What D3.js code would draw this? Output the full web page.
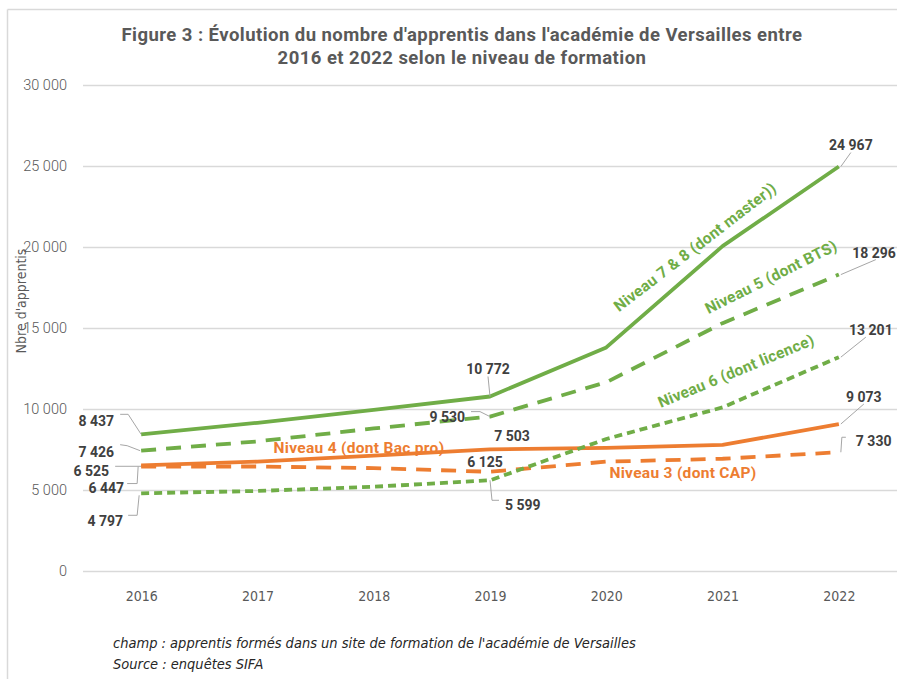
<!DOCTYPE html>
<html>
<head>
<meta charset="utf-8">
<script src="https://cdn.jsdelivr.net/npm/d3@7"></script>
<style>
  body { margin: 0; background: #fff; }
  .narrow { font-family: "Liberation Sans Narrow", "Arial Narrow", "DejaVu Sans Condensed", sans-serif; }
</style>
</head>
<body>
<div class="canvas"></div>
<script>
const w = 897;
const h = 679;
const margin = {top: 85, bottom: 108, left: 83, right: 0};

// data
const years = ["2016", "2017", "2018", "2019", "2020", "2021", "2022"];
const niveau78 = [8437, 9150, 9950, 10772, 13800, 20050, 24967];
const niveau5 = [7426, 8000, 8800, 9530, 11650, 15300, 18296];
const niveau6 = [4797, 4940, 5200, 5599, 8150, 10100, 13201];
const niveau4 = [6525, 6750, 7120, 7503, 7600, 7780, 9073];
const niveau3 = [6447, 6450, 6350, 6125, 6750, 6930, 7330];
const yTicks = [0, 5000, 10000, 15000, 20000, 25000, 30000];
const labeledYears = ["2016", "2019", "2022"];

const green = "#70AD47";
const orange = "#ED7D31";
const fmt = v => d3.format(",")(v).replace(/,/g, " ");

const svg = d3.select(".canvas")
              .append("svg")
              .attr("width", w)
              .attr("height", h);

// chart frame
svg.append("line").attr("x1", 7.5).attr("x2", w).attr("y1", 9.5).attr("y2", 9.5)
   .attr("stroke", "#d9d9d9").attr("stroke-width", 1.5);
svg.append("line").attr("x1", 7.5).attr("x2", 7.5).attr("y1", 9.5).attr("y2", h)
   .attr("stroke", "#d9d9d9").attr("stroke-width", 1.5);

const x = d3.scalePoint()
            .domain(years)
            .range([margin.left, w - margin.right])
            .padding(0.5);

const y = d3.scaleLinear()
            .domain([0, 30000])
            .range([h - margin.bottom, margin.top]);

// title
svg.append("text")
   .attr("x", 462).attr("y", 41)
   .attr("text-anchor", "middle")
   .style("font-family", "Roboto, sans-serif")
   .style("font-weight", "bold")
   .style("font-size", "18.5px")
   .style("letter-spacing", "0.45px")
   .attr("fill", "#595959")
   .selectAll("tspan")
   .data(["Figure 3 : Évolution du nombre d'apprentis dans l'académie de Versailles entre",
          "2016 et 2022 selon le niveau de formation"])
   .enter().append("tspan")
   .attr("x", 462)
   .attr("dy", (d, i) => i === 0 ? 0 : 23)
   .text(d => d);

// grid + y axis
const yAxis = svg.append("g")
   .attr("transform", "translate(" + margin.left + ",0)")
   .call(d3.axisLeft(y).tickValues(yTicks).tickFormat(fmt).tickSize(-(w - margin.left - margin.right)).tickPadding(16));
yAxis.select(".domain").remove();
yAxis.selectAll(".tick line").attr("stroke", "#d9d9d9").attr("stroke-width", 1.5);
yAxis.selectAll(".tick text")
   .attr("fill", "#595959")
   .style("font-family", "Roboto, sans-serif")
   .style("font-weight", 300)
   .style("font-size", "14.5px");

// x axis
const xAxis = svg.append("g")
   .attr("transform", "translate(0," + (h - margin.bottom) + ")")
   .call(d3.axisBottom(x).tickSize(0).tickPadding(20));
xAxis.select(".domain").remove();
xAxis.selectAll(".tick text")
   .attr("class", "narrow")
   .attr("fill", "#595959")
   .style("font-size", "14px");

// y axis title
svg.append("text")
   .attr("class", "narrow")
   .attr("transform", "translate(26,301) rotate(-90)")
   .attr("text-anchor", "middle")
   .attr("fill", "#595959")
   .style("font-size", "14px")
   .text("Nbre d'apprentis");

// series
const series = [
  {name: "Niveau 7 & 8 (dont master))", values: niveau78, color: green, dash: null,
   label: {x: 695, y: 247, rot: -37.6, anchor: "middle"},
   points: [
     {dx: -27, dy: -13, anchor: "end", leader: [[-21, -20], [-13, -20], [0, 0]]},
     {dx: -2, dy: -27, anchor: "middle", leader: [[-2, -20], [0, 0]]},
     {dx: 12, dy: -21, anchor: "middle", leader: [[12, -14], [2, 0]]}
   ]},
  {name: "Niveau 5 (dont BTS)", values: niveau5, color: green, dash: "15,10",
   label: {x: 771, y: 277, rot: -26.5, anchor: "middle"},
   points: [
     {dx: -27, dy: 1, anchor: "end", leader: [[-21, -6], [-14, -5], [-1, 0]]},
     {dx: -25, dy: 0, anchor: "end", leader: [[-19, -5], [-10, -5], [0, 0]]},
     {dx: 57, dy: -22, anchor: "end", leader: [[2, 0], [37, -15]]}
   ]},
  {name: "Niveau 6 (dont licence)", values: niveau6, color: green, dash: "8,5",
   label: {x: 736, y: 371, rot: -22.5, anchor: "middle"},
   points: [
     {dx: -18, dy: 28, anchor: "end", leader: [[-13, 22], [-4, 22], [-2, 2]]},
     {dx: 15, dy: 25, anchor: "start", leader: [[0, 0], [2, 20], [9, 20]]},
     {dx: 32, dy: -27, anchor: "middle", leader: [[2, 0], [27, -20]]}
   ]},
  {name: "Niveau 4 (dont Bac pro)", values: niveau4, color: orange, dash: null,
   label: {x: 359, y: 448, rot: 0, anchor: "middle"},
   points: [
     {dx: -32, dy: 6, anchor: "end", leader: [[-26, 1], [0, 1]]},
     {dx: 22, dy: -13, anchor: "middle", leader: null},
     {dx: 25, dy: -27, anchor: "middle", leader: [[2, 0], [25, -20]]}
   ]},
  {name: "Niveau 3 (dont CAP)", values: niveau3, color: orange, dash: "15,10",
   label: {x: 683, y: 473, rot: 0, anchor: "middle"},
   points: [
     {dx: -17, dy: 22, anchor: "end", leader: [[-14, 17], [-4, 17], [-3, 0]]},
     {dx: -5, dy: -10, anchor: "middle", leader: null},
     {dx: 17, dy: -11, anchor: "start", leader: [[2, 0], [3, -15], [7, -15]]}
   ]}
];

const line = d3.line()
   .x((d, i) => x(years[i]))
   .y(d => y(d));

const lines = svg.append("g").attr("class", "lines");

// orange first, then the greens on top
[3, 4, 2, 1, 0].forEach(k => {
  const s = series[k];
  lines.append("path")
     .datum(s.values)
     .attr("d", line)
     .attr("fill", "none")
     .attr("stroke", s.color)
     .attr("stroke-width", 3.8)
     .attr("stroke-dasharray", s.dash)
     .attr("stroke-linejoin", "round");
});

// leaders and value labels
const labels = svg.append("g").attr("class", "labels");
series.forEach(s => {
  labeledYears.forEach((yr, j) => {
    const i = years.indexOf(yr);
    const px = x(yr), py = y(s.values[i]);
    const p = s.points[j];
    if (p.leader) {
      labels.append("polyline")
        .attr("points", p.leader.map(q => [px + q[0], py + q[1]].join(",")).join(" "))
        .attr("fill", "none")
        .attr("stroke", "#a6a6a6")
        .attr("stroke-width", 1);
    }
    labels.append("text")
      .attr("x", px + p.dx)
      .attr("y", py + p.dy)
      .attr("text-anchor", p.anchor)
      .attr("dy", "0.35em")
      .style("font-family", "Roboto, sans-serif")
      .style("font-weight", "bold")
      .style("font-size", "14px")
      .attr("fill", "#404040")
      .text(fmt(s.values[i]));
  });

  svg.append("text")
     .attr("transform", "translate(" + s.label.x + "," + s.label.y + ") rotate(" + s.label.rot + ")")
     .attr("text-anchor", s.label.anchor)
     .attr("dy", "0.35em")
     .style("font-family", "Roboto, sans-serif")
     .style("font-weight", "bold")
     .style("font-size", "15.5px")
     .style("letter-spacing", "0.3px")
     .attr("fill", s.color)
     .text(s.name);
});

// footnote
svg.append("g")
   .attr("class", "narrow")
   .selectAll("text")
   .data(["champ : apprentis formés dans un site de formation de l'académie de Versailles",
          "Source : enquêtes SIFA"])
   .enter().append("text")
   .attr("x", 113)
   .attr("y", (d, i) => 648 + i * 21)
   .style("font-style", "italic")
   .style("font-size", "14.5px")
   .attr("fill", "#262626")
   .text(d => d);
</script>
</body>
</html>
